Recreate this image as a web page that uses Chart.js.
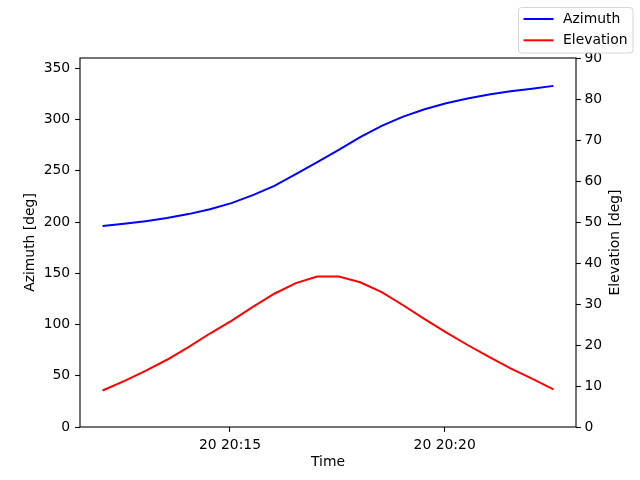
<!DOCTYPE html>
<html>
<head>
<meta charset="utf-8">
<script src="https://cdn.jsdelivr.net/npm/chart.js@4"></script>
<style>
  body { margin: 0; background: #fff; }
  canvas { display: block; }
</style>
</head>
<body>
<canvas id="chart" width="640" height="480"></canvas>
<script>
// sample times (HH:MM:SS, day 20)
const times = [
    '20:12:02', '20:12:32', '20:13:02', '20:13:32', '20:14:02', '20:14:32',
    '20:15:02', '20:15:32', '20:16:02', '20:16:32', '20:17:02', '20:17:32',
    '20:18:02', '20:18:32', '20:19:02', '20:19:32', '20:20:02', '20:20:32',
    '20:21:02', '20:21:32', '20:22:02', '20:22:32',
];

// Azimuth in degrees, left axis
const azimuth = [
    196.0, 198.2, 200.8, 203.8, 207.7, 212.5, 218.4, 226.2, 235.3, 246.7, 258.4,
    270.4, 282.7, 293.8, 302.8, 310.0, 315.9, 320.4, 324.3, 327.6, 330.1, 332.8,
];

// Elevation in degrees, right axis
const elevation = [
    8.9, 11.2, 13.7, 16.4, 19.5, 22.8, 25.9, 29.3, 32.5, 35.1, 36.7,
    36.7, 35.3, 32.9, 29.7, 26.3, 23.1, 20.0, 17.1, 14.3, 11.8, 9.2,
];

const xTickLabels = ['20 20:15', '20 20:20'];
const azTicks = [0, 50, 100, 150, 200, 250, 300, 350];
const elTicks = [0, 10, 20, 30, 40, 50, 60, 70, 80, 90];

// minutes past 20:00
const toMinutes = (t) => {
    const [h, m, s] = t.split(':').map(Number);
    return (h - 20) * 60 + m + (s || 0) / 60;
};

const xs = times.map(toMinutes);
const xTickValues = xTickLabels.map(l => toMinutes(l.split(' ')[1]));
const span = xs[xs.length - 1] - xs[0];
const xMin = xs[0] - span * 0.05;
const xMax = xs[xs.length - 1] + span * 0.05;

const FONT = { family: 'DejaVu Sans', size: 13.9 };
const FONT_CSS = '13.9px "DejaVu Sans"';
Chart.defaults.color = '#000';
Chart.defaults.font.family = 'DejaVu Sans';

// matplotlib-like frame, right axis label and figure legend
const framePlugin = {
    id: 'frame',
    afterDatasetsDraw(chart) {
        const { ctx, chartArea: a } = chart;
        ctx.save();
        ctx.strokeStyle = '#000';
        ctx.lineWidth = 1.1;
        ctx.strokeRect(a.left, a.top, a.right - a.left, a.bottom - a.top);
        ctx.restore();
    },
    afterDraw(chart) {
        const { ctx, chartArea: a } = chart;
        ctx.save();
        // right axis title, reading bottom to top
        ctx.translate(615, (a.top + a.bottom) / 2);
        ctx.rotate(-Math.PI / 2);
        ctx.font = FONT_CSS;
        ctx.fillStyle = '#000';
        ctx.textAlign = 'center';
        ctx.textBaseline = 'middle';
        ctx.fillText('Elevation [deg]', 0, 0);
        ctx.restore();

        const x0 = 518.5, y0 = 7.5, w = 114.5, h = 45.5;
        ctx.save();
        ctx.beginPath();
        ctx.roundRect(x0, y0, w, h, 3);
        ctx.fillStyle = 'rgba(255,255,255,0.8)';
        ctx.fill();
        ctx.strokeStyle = '#d6d6d6';
        ctx.lineWidth = 1;
        ctx.stroke();
        ctx.font = FONT_CSS;
        ctx.textBaseline = 'middle';
        chart.data.datasets.forEach((ds, i) => {
            const y = 19 + i * 21.3;
            ctx.beginPath();
            ctx.moveTo(523.5, y);
            ctx.lineTo(553.5, y);
            ctx.strokeStyle = ds.borderColor;
            ctx.lineWidth = 2;
            ctx.stroke();
            ctx.fillStyle = '#000';
            ctx.fillText(ds.label, 563, y);
        });
        ctx.restore();
    },
};

const tickGrid = {
    drawOnChartArea: false,
    drawTicks: true,
    tickLength: 4.9,
    tickColor: '#000',
    tickWidth: 1.1,
};

new Chart(document.getElementById('chart'), {
    type: 'line',
    data: {
        datasets: [
            {
                label: 'Azimuth',
                data: xs.map((x, i) => ({ x, y: azimuth[i] })),
                borderColor: '#0000ff',
                borderWidth: 2,
                pointRadius: 0,
                tension: 0,
                yAxisID: 'y',
            },
            {
                label: 'Elevation',
                data: xs.map((x, i) => ({ x, y: elevation[i] })),
                borderColor: '#ff0000',
                borderWidth: 2,
                pointRadius: 0,
                tension: 0,
                yAxisID: 'y2',
            },
        ],
    },
    plugins: [framePlugin],
    options: {
        responsive: false,
        devicePixelRatio: 1,
        animation: false,
        layout: { padding: { top: 58, left: 0, right: 0, bottom: 0 } },
        plugins: {
            legend: { display: false },
            tooltip: { enabled: false },
        },
        scales: {
            x: {
                type: 'linear',
                min: xMin,
                max: xMax,
                grid: tickGrid,
                border: { display: false },
                afterBuildTicks: (s) => { s.ticks = xTickValues.map(v => ({ value: v })); },
                afterFit: (s) => { s.height = 53; },
                ticks: {
                    font: FONT,
                    padding: 4.9,
                    maxRotation: 0,
                    autoSkip: false,
                    callback: (v) => xTickLabels[xTickValues.indexOf(v)],
                },
                title: { display: true, text: 'Time', font: FONT, padding: { top: 0, bottom: 9.7 } },
            },
            y: {
                position: 'left',
                min: 0,
                max: 360,
                grid: tickGrid,
                border: { display: false },
                afterBuildTicks: (s) => { s.ticks = azTicks.map(v => ({ value: v })); },
                afterFit: (s) => { s.width = 80; },
                ticks: { font: FONT, padding: 4.9 },
                title: { display: true, text: 'Azimuth [deg]', font: FONT, padding: { top: 21.7, bottom: 0 } },
            },
            y2: {
                position: 'right',
                min: 0,
                max: 90,
                grid: tickGrid,
                border: { display: false },
                afterBuildTicks: (s) => { s.ticks = elTicks.map(v => ({ value: v })); },
                afterFit: (s) => { s.width = 64; },
                ticks: { font: FONT, padding: 3.5 },
            },
        },
    },
});
</script>
</body>
</html>
